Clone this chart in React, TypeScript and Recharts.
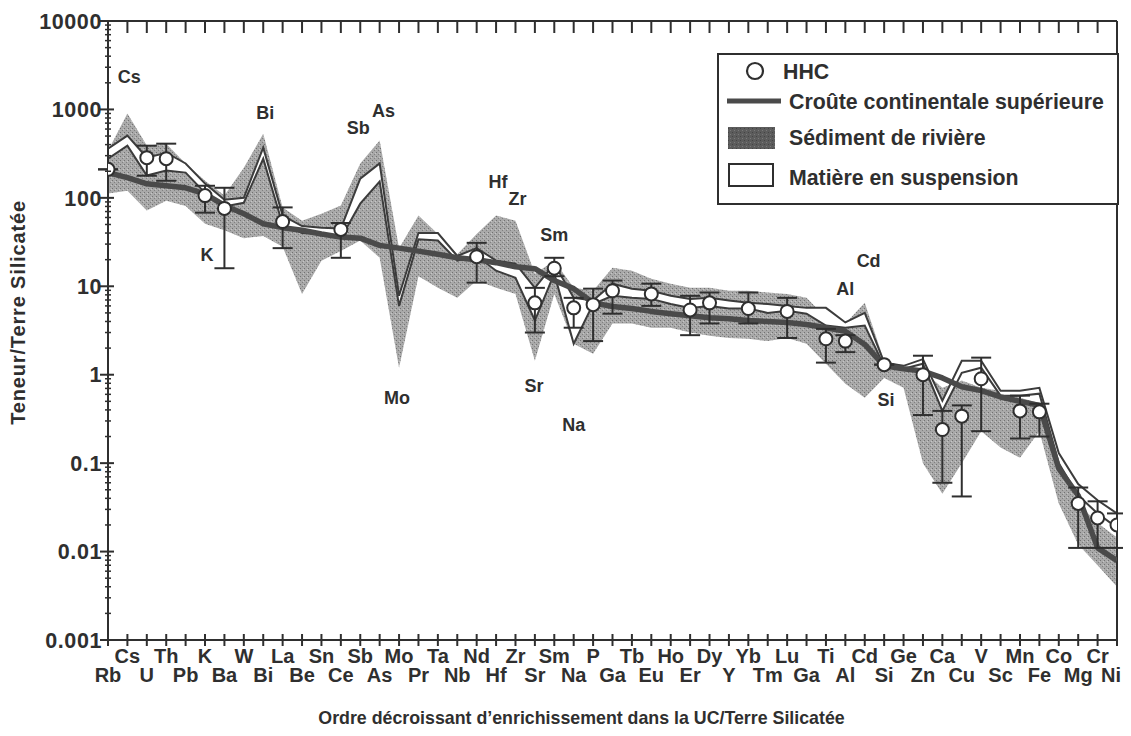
import React from 'react';
import {
  ComposedChart,
  Area,
  Line,
  Scatter,
  XAxis,
  YAxis,
  ErrorBar,
  ReferenceLine,
  Legend,
} from 'recharts';

// ---------- DATA ----------
const categories = [
  'Rb', 'Cs', 'U', 'Th', 'Pb', 'K', 'Ba', 'W', 'Bi', 'La', 'Be', 'Sn', 'Ce', 'Sb', 'As', 'Mo', 'Pr', 'Ta',
  'Nb', 'Nd', 'Hf', 'Zr', 'Sr', 'Sm', 'Na', 'P', 'Ga', 'Tb', 'Eu', 'Ho', 'Er', 'Dy', 'Y', 'Yb', 'Tm', 'Lu',
  'Ga', 'Ti', 'Al', 'Cd', 'Si', 'Ge', 'Zn', 'Ca', 'Cu', 'V', 'Sc', 'Mn', 'Fe', 'Co', 'Mg', 'Cr', 'Ni',
];

// Croûte continentale supérieure (UC)
const ucValues = [
  193, 169, 144, 137, 130, 111, 82, 66, 51, 46,
  43, 39, 36, 35, 29, 27, 25, 23, 21, 20,
  18.5, 16.6, 15.8, 11.6, 9.4, 6.5, 5.9, 5.6, 5.2, 4.9,
  4.65, 4.4, 4.3, 4.1, 4.0, 3.9, 3.7, 3.4, 3.1, 2.2,
  1.26, 1.17, 1.1, 0.92, 0.73, 0.66, 0.56, 0.5, 0.45, 0.087,
  0.043, 0.011, 0.0079,
];

// Sédiment de rivière (range)
const sedimentLow = [
  112, 120, 72, 93, 81, 51, 43, 35, 37, 28,
  8.2, 19.5, 25, 33, 21, 1.2, 13, 9.6, 7.4, 11.6,
  9.6, 8.2, 1.44, 8.2, 2.24, 1.73, 3.8, 3.8, 3.4, 3.4,
  3.0, 2.76, 2.6, 2.55, 2.4, 2.6, 2.24, 1.33, 0.79, 0.55,
  0.92, 0.71, 0.1, 0.045, 0.1, 0.23, 0.15, 0.115, 0.23, 0.035,
  0.012, 0.007, 0.004,
];
const sedimentHigh = [
  340, 900, 390, 410, 245, 156, 106, 219, 530, 78,
  55, 66, 82, 245, 445, 27, 63, 39, 23, 39,
  63, 55, 13.9, 19.5, 9.6, 8.9, 16.2, 15, 12.2, 10.7,
  9.6, 9.6, 8.9, 8.9, 8.5, 8.2, 7.4, 4.4, 3.8, 6.5,
  1.44, 1.26, 1.11, 0.71, 0.86, 0.71, 0.66, 0.55, 0.48, 0.1,
  0.035, 0.021, 0.0144,
];

// Matière en suspension (range)
const suspensionLow = [
  277, 390, 179, 204, 193, 114, 80, 88, 277, 50,
  40, 39, 35, 86, 153, 6.0, 34, 33, 19.5, 22,
  15, 12.5, 4.1, 13.9, 2.24, 6.3, 7.8, 7.4, 7.2, 6.3,
  5.7, 6.0, 5.6, 5.6, 5.0, 5.3, 4.9, 3.6, 3.4, 3.6,
  1.26, 1.17, 1.33, 0.39, 1.05, 1.2, 0.58, 0.58, 0.61, 0.1,
  0.043, 0.027, 0.0186,
];
const suspensionHigh = [
  360, 505, 285, 324, 245, 145, 95, 100, 370, 63,
  48, 46, 45, 165, 245, 7.8, 40, 40, 22, 27,
  19.5, 18, 9.6, 18, 7.4, 6.9, 10.7, 9.4, 8.9, 7.8,
  7.2, 7.4, 6.9, 6.5, 6.3, 6.0, 5.7, 5.7, 3.9, 5.0,
  1.37, 1.26, 1.5, 0.51, 1.44, 1.44, 0.66, 0.66, 0.71, 0.13,
  0.058, 0.038, 0.027,
];

// HHC (value, min, max)
const hhcValues = [
  210, null, 285, 277, null, 106, 76, null, null, 54,
  null, null, 44, null, null, null, null, null, null, 21.6,
  null, null, 6.5, 16, 5.7, 6.2, 8.9, null, 8.2, null,
  5.4, 6.5, null, 5.6, null, 5.2, null, 2.55, 2.4, null,
  1.3, null, 1.0, 0.24, 0.34, 0.9, null, 0.39, 0.38, null,
  0.035, 0.024, 0.02,
];
const hhcLow = [
  null, null, 178, 156, null, 68, 16, null, null, 27,
  null, null, 21, null, null, null, null, null, null, 11,
  null, null, 3.0, 13, 3.4, 2.4, 4.9, null, 6.0, null,
  2.8, 3.8, null, 3.8, null, 2.6, null, 1.37, 1.8, null,
  null, null, 0.35, 0.06, 0.042, 0.23, null, 0.19, 0.2, null,
  0.011, 0.011, 0.011,
];
const hhcHigh = [
  null, null, 389, 410, null, 137, 130, null, null, 78,
  null, null, 52, null, null, null, null, null, null, 31,
  null, null, 9.6, 21, 7.4, 9.4, 11.6, null, 10.7, null,
  7.8, 8.5, null, 8.5, null, 7.4, null, 3.3, 2.8, null,
  null, null, 1.64, 0.39, 0.45, 1.56, null, 0.58, 0.47, null,
  0.053, 0.037, 0.027,
];

// Annotations inside the plot: label, category position, value
const annotationNames = ['Cs', 'Bi', 'Sb', 'As', 'K', 'Mo', 'Hf', 'Zr', 'Sm', 'Sr', 'Na', 'Al', 'Cd', 'Si'];
const annotationPos = [1.1, 8.1, 12.9, 14.2, 5.1, 14.9, 20.1, 21.1, 23.0, 21.95, 24.0, 38.0, 39.2, 40.1];
const annotationValues = [2350, 920, 620, 970, 23, 0.55, 152, 98, 38, 0.75, 0.27, 9.4, 19.5, 0.53];

const yTickLabels = ['0.001', '0.01', '0.1', '1', '10', '100', '1000', '10000'];
const minorMultipliers = [2, 3, 4, 5, 6, 7, 8, 9];

const legendLabels = ['HHC', 'Croûte continentale supérieure', 'Sédiment de rivière', 'Matière en suspension'];

const xTitle = 'Ordre décroissant d’enrichissement dans la UC/Terre Silicatée';
const yTitle = 'Teneur/Terre Silicatée';

// ---------- DERIVED ----------
const rows = categories.map((c, i) => ({
  i,
  name: c,
  uc: ucValues[i],
  sed: [sedimentLow[i], sedimentHigh[i]],
  sus: [suspensionLow[i], suspensionHigh[i]],
}));

const hhcData = categories
  .map((c, i) => {
    const v = hhcValues[i];
    if (v == null) return null;
    const lo = hhcLow[i];
    const hi = hhcHigh[i];
    return { i, v, err: [lo == null ? 0 : v - lo, hi == null ? 0 : hi - v] };
  })
  .filter(Boolean) as { i: number; v: number; err: number[] }[];

const annotations = annotationNames.map((n, k) => ({ i: annotationPos[k], v: annotationValues[k], label: n }));

const yMajor = yTickLabels.map((t) => Number(t));
const yTicks: number[] = [];
yMajor.forEach((d, k) => {
  yTicks.push(d);
  if (k < yMajor.length - 1) minorMultipliers.forEach((m) => yTicks.push(m * d));
});
const xTicks = categories.map((_, i) => i);

// ---------- STYLE ----------
const FONT = '"Liberation Sans", Arial, Helvetica, sans-serif';
const INK = '#2f2f2f';
const LINE = '#3c3c3c';

const XTick = (props: any) => {
  const { x, y, payload } = props;
  const i = payload.value;
  const upper = i % 2 === 1;
  const last = i === categories.length - 1;
  return (
    <g>
      <line x1={x} x2={x} y1={y - 6} y2={y + 6} stroke={INK} strokeWidth={2} />
      <text
        x={last ? x - 6 : x}
        y={y + (upper ? 23 : 42)}
        textAnchor="middle"
        fontFamily={FONT}
        fontWeight="bold"
        fontSize={20}
        fill={INK}
      >
        {categories[i]}
      </text>
    </g>
  );
};

const TopTick = (props: any) => {
  const { x, y } = props;
  return <line x1={x} x2={x} y1={y} y2={y + 12} stroke={INK} strokeWidth={2} />;
};

const YTick = (props: any) => {
  const { x, y, payload } = props;
  const v = payload.value;
  const lg = Math.log10(v);
  const major = Math.abs(lg - Math.round(lg)) < 1e-6;
  if (!major) {
    return <line x1={x - 3} x2={x + 3} y1={y} y2={y} stroke={INK} strokeWidth={1.5} />;
  }
  const idx = Math.round(lg) + 3;
  return (
    <g>
      <line x1={x - 8} x2={x + 6} y1={y} y2={y} stroke={INK} strokeWidth={2} />
      <text
        x={x - 6}
        y={y}
        dy="0.36em"
        textAnchor="end"
        fontFamily={FONT}
        fontWeight="bold"
        fontSize={21.5}
        letterSpacing={0.6}
        fill={INK}
      >
        {yTickLabels[idx]}
      </text>
    </g>
  );
};

const HhcDot = (props: any) => {
  const { cx, cy } = props;
  if (cx == null || cy == null) return null;
  return <circle cx={cx} cy={cy} r={6.5} fill="#ffffff" stroke={INK} strokeWidth={2} />;
};

const AnnotationText = (props: any) => {
  const { cx, cy, payload } = props;
  if (cx == null || cy == null) return null;
  return (
    <text
      x={cx}
      y={cy}
      dy="0.36em"
      textAnchor="middle"
      fontFamily={FONT}
      fontWeight="bold"
      fontSize={18}
      fill={INK}
    >
      {payload.label}
    </text>
  );
};

const LegendBox = () => (
  <svg width={402} height={152} style={{ display: 'block' }}>
    <rect x={1} y={1} width={400} height={150} fill="#ffffff" stroke={INK} strokeWidth={2} />
    <circle cx={38} cy={18} r={8} fill="#fff" stroke={INK} strokeWidth={2.2} />
    <text x={66} y={26} fontFamily={FONT} fontWeight="bold" fontSize={21.3} fill={INK}>
      {legendLabels[0]}
    </text>
    <line x1={10} x2={64} y1={48} y2={48} stroke="#4a4a4a" strokeWidth={5} />
    <text x={72} y={56} fontFamily={FONT} fontWeight="bold" fontSize={21.3} fill={INK}>
      {legendLabels[1]}
    </text>
    <rect x={11} y={74} width={47} height={22} fill="url(#stippleDark)" />
    <text x={72} y={92} fontFamily={FONT} fontWeight="bold" fontSize={21.3} fill={INK}>
      {legendLabels[2]}
    </text>
    <rect x={12} y={111} width={44} height={22} fill="#fff" stroke={INK} strokeWidth={2} />
    <text x={72} y={132} fontFamily={FONT} fontWeight="bold" fontSize={21.3} fill={INK}>
      {legendLabels[3]}
    </text>
  </svg>
);

export default function App() {
  return (
    <div style={{ width: 1115, height: 716, position: 'relative', background: '#fff', overflow: 'visible' }}>
      <style>{`.recharts-surface{overflow:visible;display:block}.recharts-wrapper{overflow:visible}`}</style>
      <ComposedChart
        width={1115}
        height={716}
        data={rows}
        margin={{ top: 1, right: 6, bottom: 0, left: 0 }}
      >
        <defs>
          <pattern id="stipple" width={4} height={4} patternUnits="userSpaceOnUse">
            <rect width={4} height={4} fill="#a9a9a9" />
            <rect x={0} y={0} width={1} height={1} fill="#717171" />
            <rect x={2} y={2} width={1} height={1} fill="#808080" />
            <rect x={3} y={1} width={1} height={1} fill="#c6c6c6" />
          </pattern>
          <pattern id="stippleDark" width={4} height={4} patternUnits="userSpaceOnUse">
            <rect width={4} height={4} fill="#5c5c5c" />
            <rect x={1} y={1} width={1} height={1} fill="#7a7a7a" />
            <rect x={3} y={3} width={1} height={1} fill="#444" />
          </pattern>
        </defs>
        <XAxis
          dataKey="i"
          type="number"
          domain={[0, 52]}
          allowDataOverflow
          ticks={xTicks}
          interval={0}
          tick={(p: any) => <XTick {...p} />}
          tickLine={false}
          tickSize={0}
          tickMargin={0}
          height={84}
          axisLine={{ stroke: INK, strokeWidth: 2 }}
          label={(p: any) => {
            const vb = p.viewBox || {};
            return (
              <text
                x={vb.x + vb.width / 2 - 31}
                y={vb.y + 84}
                textAnchor="middle"
                fontFamily={FONT}
                fontWeight="bold"
                fontSize={17.8}
                fill={INK}
              >
                {xTitle}
              </text>
            );
          }}
        />
        <XAxis
          xAxisId="top"
          orientation="top"
          dataKey="i"
          type="number"
          domain={[0, 52]}
          allowDataOverflow
          ticks={xTicks}
          interval={0}
          tick={(p: any) => <TopTick {...p} />}
          tickLine={false}
          tickSize={0}
          tickMargin={0}
          height={12}
          axisLine={{ stroke: INK, strokeWidth: 2 }}
        />
        <YAxis
          type="number"
          scale="log"
          domain={[0.001, 10000]}
          allowDataOverflow
          ticks={yTicks}
          interval={0}
          tick={(p: any) => <YTick {...p} />}
          tickLine={false}
          tickSize={0}
          tickMargin={0}
          width={100}
          axisLine={{ stroke: INK, strokeWidth: 2 }}
          label={(p: any) => {
            const vb = p.viewBox || {};
            const cx = vb.x + 10;
            const cy = vb.y + vb.height / 2 - 18;
            return (
              <text
                x={cx}
                y={cy}
                transform={`rotate(-90 ${cx} ${cy})`}
                textAnchor="middle"
                dominantBaseline="central"
                fontFamily={FONT}
                fontWeight="bold"
                fontSize={20}
                letterSpacing={0.85}
                fill={INK}
              >
                {yTitle}
              </text>
            );
          }}
        />
        <ReferenceLine x={52} stroke={INK} strokeWidth={2} ifOverflow="extendDomain" />
        <Area
          dataKey="sed"
          type="linear"
          fill="url(#stipple)"
          fillOpacity={1}
          stroke="none"
          isAnimationActive={false}
          activeDot={false}
        />
        <Area
          dataKey="sus"
          type="linear"
          fill="#ffffff"
          fillOpacity={1}
          stroke={LINE}
          strokeWidth={2}
          isAnimationActive={false}
          activeDot={false}
        />
        <Line
          dataKey="uc"
          type="linear"
          stroke="#4a4a4a"
          strokeWidth={5.5}
          strokeLinejoin="round"
          dot={false}
          activeDot={false}
          isAnimationActive={false}
        />
        <Scatter data={hhcData} dataKey="v" shape={(p: any) => <HhcDot {...p} />} isAnimationActive={false}>
          <ErrorBar dataKey="err" direction="y" width={10} stroke={INK} strokeWidth={2} />
        </Scatter>
        <Scatter
          data={annotations}
          dataKey="v"
          shape={(p: any) => <AnnotationText {...p} />}
          isAnimationActive={false}
        />
        <Legend
          layout="horizontal"
          verticalAlign="middle"
          align="center"
          wrapperStyle={{ position: 'absolute', left: 709, top: 45, width: 402, height: 152 }}
          content={() => <LegendBox />}
        />
      </ComposedChart>
    </div>
  );
}
